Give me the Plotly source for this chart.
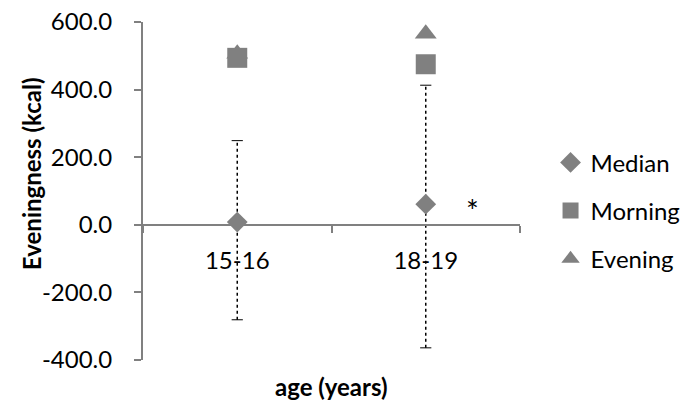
import plotly.graph_objects as go

categories = ["15-16", "18-19"]
median_vals = [8, 61]
err_high = [249, 413]
err_low = [-281, -364]
morning_vals = [494, 475]
evening_vals = [506, 565]
ytick_vals = [-400, -200, 0, 200, 400, 600]
ytick_text = ["-400.0", "-200.0", "0.0", "200.0", "400.0", "600.0"]

GRAY = "#808080"
FONT = "Lato"
FS = 24

fig = go.Figure()

# dotted error bars built from the data arrays
ex, ey = [], []
for c, lo, hi in zip(categories, err_low, err_high):
    ex += [c, c, None]
    ey += [lo, hi, None]
fig.add_trace(go.Scatter(x=ex, y=ey, mode="lines", showlegend=False, hoverinfo="skip",
                         line=dict(color="black", width=1.5, dash="dot")))
fig.add_trace(go.Scatter(x=categories + categories, y=err_low + err_high, mode="markers",
                         showlegend=False, hoverinfo="skip",
                         marker=dict(symbol="line-ew", size=8, line=dict(color="black", width=1))))

fig.add_trace(go.Scatter(x=categories, y=evening_vals, mode="markers", name="Evening",
                         legendgroup="c", legendrank=3,
                         marker=dict(symbol="triangle-up", size=19, color=GRAY)))
fig.add_trace(go.Scatter(x=categories, y=morning_vals, mode="markers", name="Morning",
                         legendgroup="b", legendrank=2,
                         marker=dict(symbol="square", size=20, color=GRAY)))
fig.add_trace(go.Scatter(x=categories, y=median_vals, mode="markers", name="Median",
                         legendgroup="a", legendrank=1,
                         marker=dict(symbol="diamond", size=16, color=GRAY)))

fig.update_layout(
    width=680, height=400,
    margin=dict(l=143, r=160, t=22, b=40, autoexpand=False),
    paper_bgcolor="white", plot_bgcolor="white",
    font=dict(family=FONT, size=FS, color="black"),
    showlegend=True,
    legend=dict(x=1.081, y=0.65, xanchor="left", yanchor="top",
                tracegroupgap=14, font=dict(size=FS, family=FONT), itemwidth=30,
                itemsizing="trace", bgcolor="rgba(0,0,0,0)"),
    xaxis=dict(type="category", categoryorder="array", categoryarray=categories,
               range=[-0.5, 1.5], showline=True, linecolor=GRAY, linewidth=2,
               ticks="outside", tickson="boundaries", ticklen=7, tickcolor=GRAY, tickwidth=2,
               showgrid=False, zeroline=False, anchor="free", position=0.4,
               automargin=False, ticklabelstandoff=14, ticklabeloverflow="allow",
               tickfont=dict(size=FS, family=FONT)),
    yaxis=dict(range=[-400, 600], tickvals=ytick_vals, ticktext=ytick_text,
               showline=True, linecolor=GRAY, linewidth=2, ticks="outside", ticklen=7,
               tickcolor=GRAY, tickwidth=2, showgrid=False, zeroline=False,
               automargin=False, ticklabelstandoff=17, ticklabeloverflow="allow",
               tickfont=dict(size=FS, family=FONT)),
    annotations=[
        dict(text="<b>age (years)</b>", xref="paper", yref="paper", x=0.5, y=-0.077,
             xanchor="center", yanchor="middle",
             showarrow=False, font=dict(size=FS, family=FONT)),
        dict(text="<b>Eveningness (kcal)</b>", xref="paper", yref="paper", x=-0.297, y=0.55,
             xanchor="center", yanchor="middle",
             textangle=-90, showarrow=False, font=dict(size=FS, family=FONT)),
        dict(text="*", x=1.25, y=median_vals[1], xref="x", yref="y", showarrow=False,
             xanchor="center", yanchor="middle", yshift=-6,
             font=dict(size=30, family=FONT)),
    ],
)

fig.write_html("out.html", config={"displayModeBar": False},
               post_script="document.body.style.margin='0';document.body.style.overflow='hidden';")
